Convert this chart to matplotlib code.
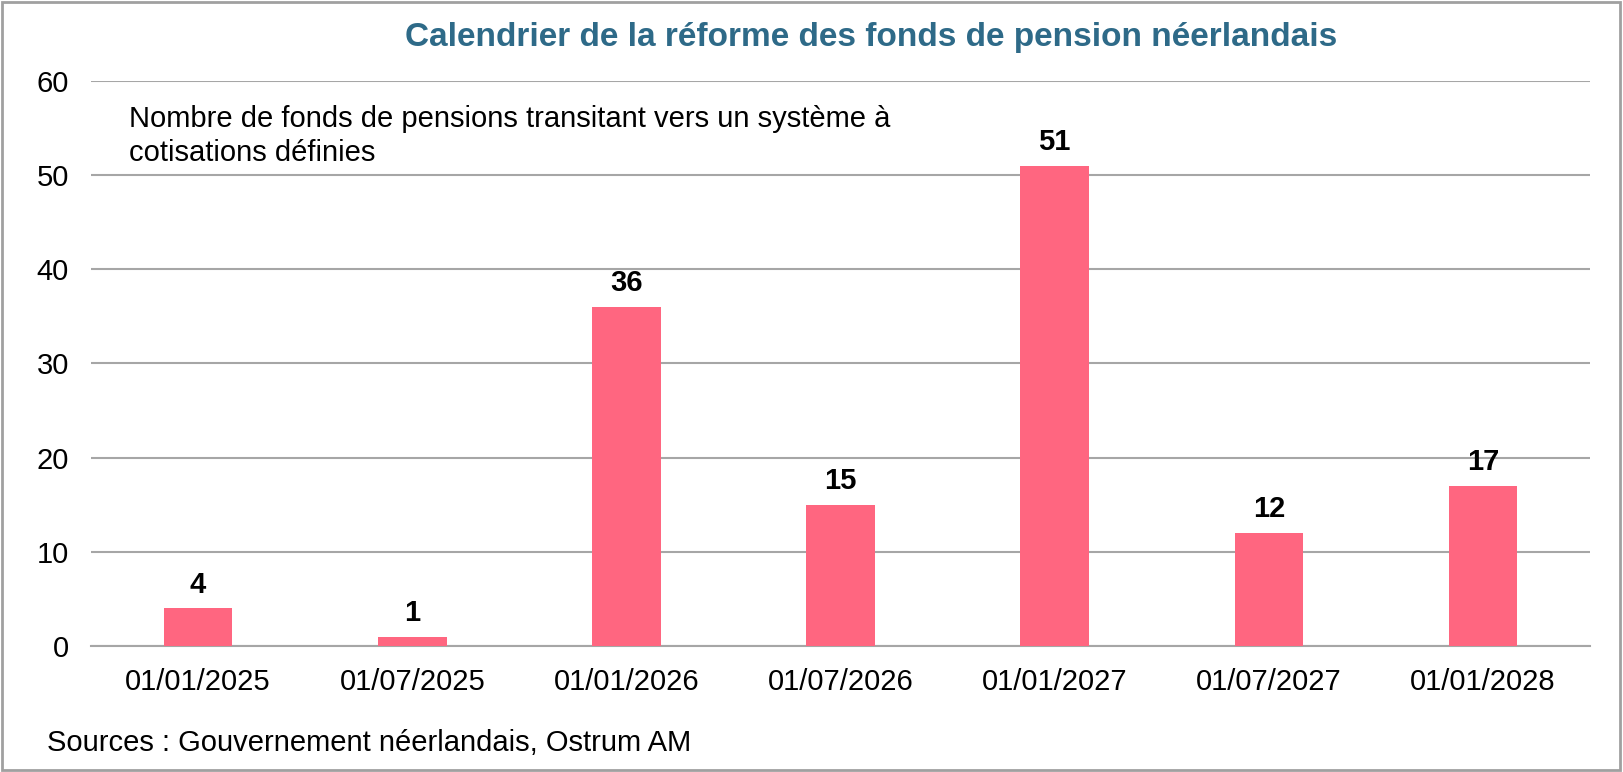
import matplotlib.pyplot as plt
from matplotlib.patches import Rectangle

plt.rcParams['font.family'] = ['Liberation Sans', 'DejaVu Sans']

# Data
dates = ['01/01/2025', '01/07/2025', '01/01/2026', '01/07/2026',
         '01/01/2027', '01/07/2027', '01/01/2028']
counts = [4, 1, 36, 15, 51, 12, 17]
yticks = [0, 10, 20, 30, 40, 50, 60]

title = 'Calendrier de la réforme des fonds de pension néerlandais'
note = 'Nombre de fonds de pensions transitant vers un système à\ncotisations définies'
source = 'Sources : Gouvernement néerlandais, Ostrum AM'

bar_color = '#FF6680'
grid_color = '#A6A6A6'

fig = plt.figure(figsize=(16.23, 7.72), dpi=100)
ax = fig.add_axes([0.0561, 0.1632, 0.9236, 0.7319])

x = range(len(dates))
bars = ax.bar(x, counts, width=0.32, color=bar_color, zorder=3)

for b, v in zip(bars, counts):
    ax.annotate(str(v), (b.get_x() + b.get_width() / 2, v),
                xytext=(0, 7), textcoords='offset points',
                ha='center', va='bottom', fontsize=21, fontweight='bold')

ax.set_xlim(-0.5, len(dates) - 0.5)
ax.set_ylim(0, 60)
ax.set_yticks(yticks)
ax.set_xticks(list(x))
ax.set_xticklabels(dates)
ax.tick_params(axis='both', length=0, labelsize=21)
ax.tick_params(axis='y', pad=16)
ax.tick_params(axis='x', pad=16)
ax.yaxis.grid(True, color=grid_color, linewidth=1.5, zorder=0)
for s in ['top', 'right', 'left']:
    ax.spines[s].set_visible(False)
ax.spines['bottom'].set_color(grid_color)
ax.spines['bottom'].set_linewidth(1.5)

fig.text(0.537, 0.951, title, ha='center', va='center',
         fontsize=24, fontweight='bold', color='#2E6A88')
fig.text(0.0795, 0.864, note, ha='left', va='top', fontsize=21,
         linespacing=1.27)
fig.text(0.029, 0.038, source, ha='left', va='center', fontsize=21)

# frame around the figure
fig.patches.append(Rectangle((0.001, 0.002), 0.997, 0.995, transform=fig.transFigure,
                             fill=False, edgecolor='#A0A0A0', linewidth=2))

fig.savefig('out.png', dpi=100)
